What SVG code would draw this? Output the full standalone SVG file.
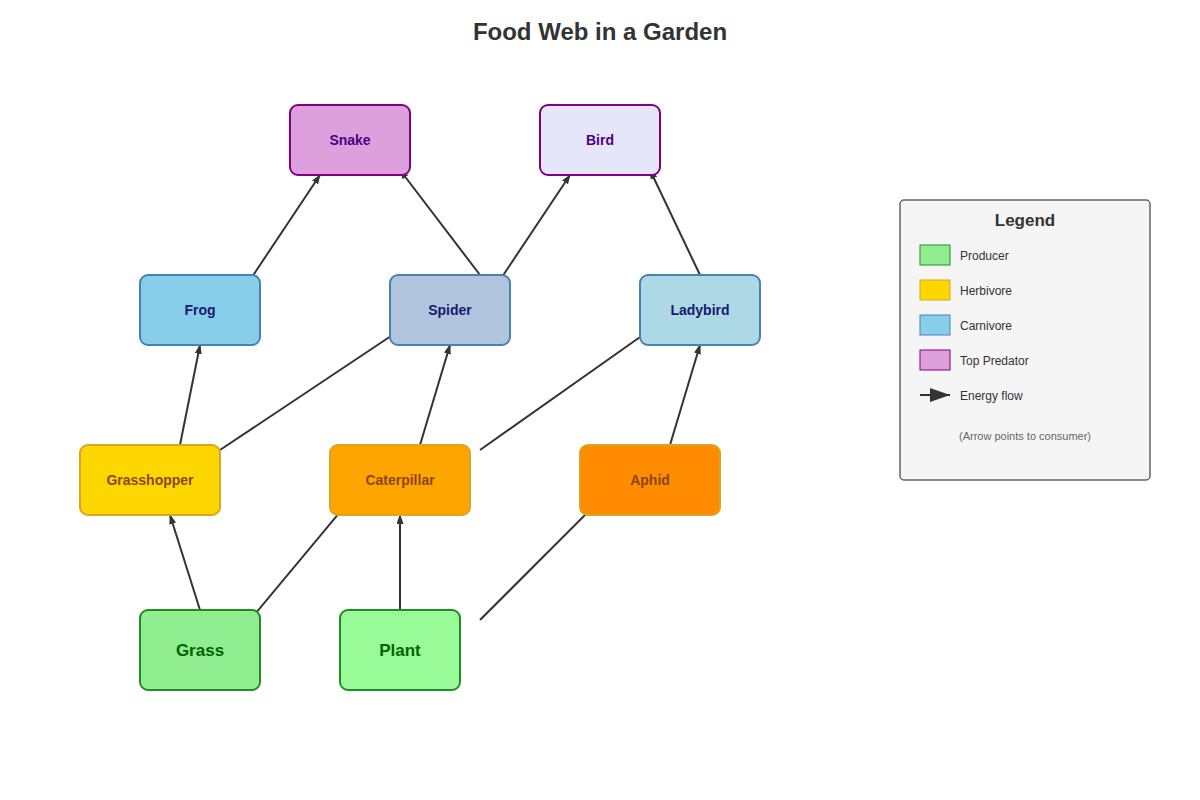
<svg xmlns="http://www.w3.org/2000/svg" width="1200" height="800" viewBox="0 0 1200 800">
<style>
text{font-family:"Liberation Sans",Arial,sans-serif;text-anchor:middle}
.n{font-size:14px;font-weight:bold}
.l{font-size:12px;fill:#333;text-anchor:start}
.c line{stroke:#333;stroke-width:2;marker-end:url(#a)}
</style>
<defs><marker id="a" markerWidth="10" markerHeight="7" refX="9" refY="3.5" orient="auto" markerUnits="userSpaceOnUse" viewBox="0 0 10 7"><polygon points="0 0,10 3.5,0 7" fill="#333"/></marker>
<marker id="b" markerWidth="20" markerHeight="14" refX="20" refY="7" orient="auto" markerUnits="userSpaceOnUse"><polygon points="0 0,20 7,0 14" fill="#333"/></marker></defs>
<rect width="1200" height="800" fill="#fff"/>
<text x="600" y="40" font-size="24" font-weight="bold" fill="#333">Food Web in a Garden</text>
<g class="c">
<line x1="200" y1="610" x2="170" y2="515" marker-end="url(#b)"/>
<line x1="250" y1="620" x2="350" y2="500" marker-end="url(#b)"/>
<line x1="400" y1="610" x2="400" y2="515" marker-end="url(#b)"/>
<line x1="480" y1="620" x2="600" y2="500" marker-end="url(#b)"/>
<line x1="180" y1="445" x2="200" y2="345" marker-end="url(#b)"/>
<line x1="220" y1="450" x2="400" y2="330" marker-end="url(#b)"/>
<line x1="420" y1="445" x2="450" y2="345" marker-end="url(#b)"/>
<line x1="480" y1="450" x2="650" y2="330" marker-end="url(#b)"/>
<line x1="670" y1="445" x2="700" y2="345" marker-end="url(#b)"/>
<line x1="250" y1="280" x2="320" y2="175" marker-end="url(#b)"/>
<line x1="480" y1="275" x2="400" y2="170" marker-end="url(#b)"/>
<line x1="500" y1="280" x2="570" y2="175" marker-end="url(#b)"/>
<line x1="700" y1="275" x2="650" y2="170" marker-end="url(#b)"/>
</g>
<g id="snake"><rect x="290" y="105" width="120" height="70" rx="8" fill="#dda0dd" stroke="#800080" stroke-width="2"/><text class="n" x="350" y="145" fill="#4b0082">Snake</text></g>
<g id="bird"><rect x="540" y="105" width="120" height="70" rx="8" fill="#e6e6fa" stroke="#800080" stroke-width="2"/><text class="n" x="600" y="145" fill="#4b0082">Bird</text></g>
<g id="frog"><rect x="140" y="275" width="120" height="70" rx="8" fill="#87ceeb" stroke="#4682b4" stroke-width="2"/><text class="n" x="200" y="315" fill="#191970">Frog</text></g>
<g id="spider"><rect x="390" y="275" width="120" height="70" rx="8" fill="#b0c4de" stroke="#4682b4" stroke-width="2"/><text class="n" x="450" y="315" fill="#191970">Spider</text></g>
<g id="ladybird"><rect x="640" y="275" width="120" height="70" rx="8" fill="#add8e6" stroke="#4682b4" stroke-width="2"/><text class="n" x="700" y="315" fill="#191970">Ladybird</text></g>
<g id="grasshopper"><rect x="80" y="445" width="140" height="70" rx="8" fill="#ffd700" stroke="#daa520" stroke-width="2"/><text class="n" x="150" y="485" fill="#8b4513">Grasshopper</text></g>
<g id="caterpillar"><rect x="330" y="445" width="140" height="70" rx="8" fill="#ffa500" stroke="#daa520" stroke-width="2"/><text class="n" x="400" y="485" fill="#8b4513">Caterpillar</text></g>
<g id="aphid"><rect x="580" y="445" width="140" height="70" rx="8" fill="#ff8c00" stroke="#daa520" stroke-width="2"/><text class="n" x="650" y="485" fill="#8b4513">Aphid</text></g>
<g id="grass"><rect x="140" y="610" width="120" height="80" rx="8" fill="#90ee90" stroke="#228b22" stroke-width="2"/><text x="200" y="656" font-size="17" font-weight="bold" fill="#006400">Grass</text></g>
<g id="plant"><rect x="340" y="610" width="120" height="80" rx="8" fill="#98fb98" stroke="#228b22" stroke-width="2"/><text x="400" y="656" font-size="17" font-weight="bold" fill="#006400">Plant</text></g>
<g id="legend">
<rect x="900" y="200" width="250" height="280" rx="4" fill="#f5f5f5" stroke="#666" stroke-width="1.5"/>
<text x="1025" y="226" font-size="17" font-weight="bold" fill="#333">Legend</text>
<rect x="920" y="245" width="30" height="20" fill="#90ee90" stroke="#228b22"/><text class="l" x="960" y="260">Producer</text>
<rect x="920" y="280" width="30" height="20" fill="#ffd700" stroke="#daa520"/><text class="l" x="960" y="295">Herbivore</text>
<rect x="920" y="315" width="30" height="20" fill="#87ceeb" stroke="#4682b4"/><text class="l" x="960" y="330">Carnivore</text>
<rect x="920" y="350" width="30" height="20" fill="#dda0dd" stroke="#800080"/><text class="l" x="960" y="365">Top Predator</text>
<line x1="920" y1="395" x2="950" y2="395" stroke="#333" stroke-width="2" marker-end="url(#b)"/><text class="l" x="960" y="400">Energy flow</text>
<text x="1025" y="440" font-size="11" fill="#666">(Arrow points to consumer)</text>
</g>
</svg>
